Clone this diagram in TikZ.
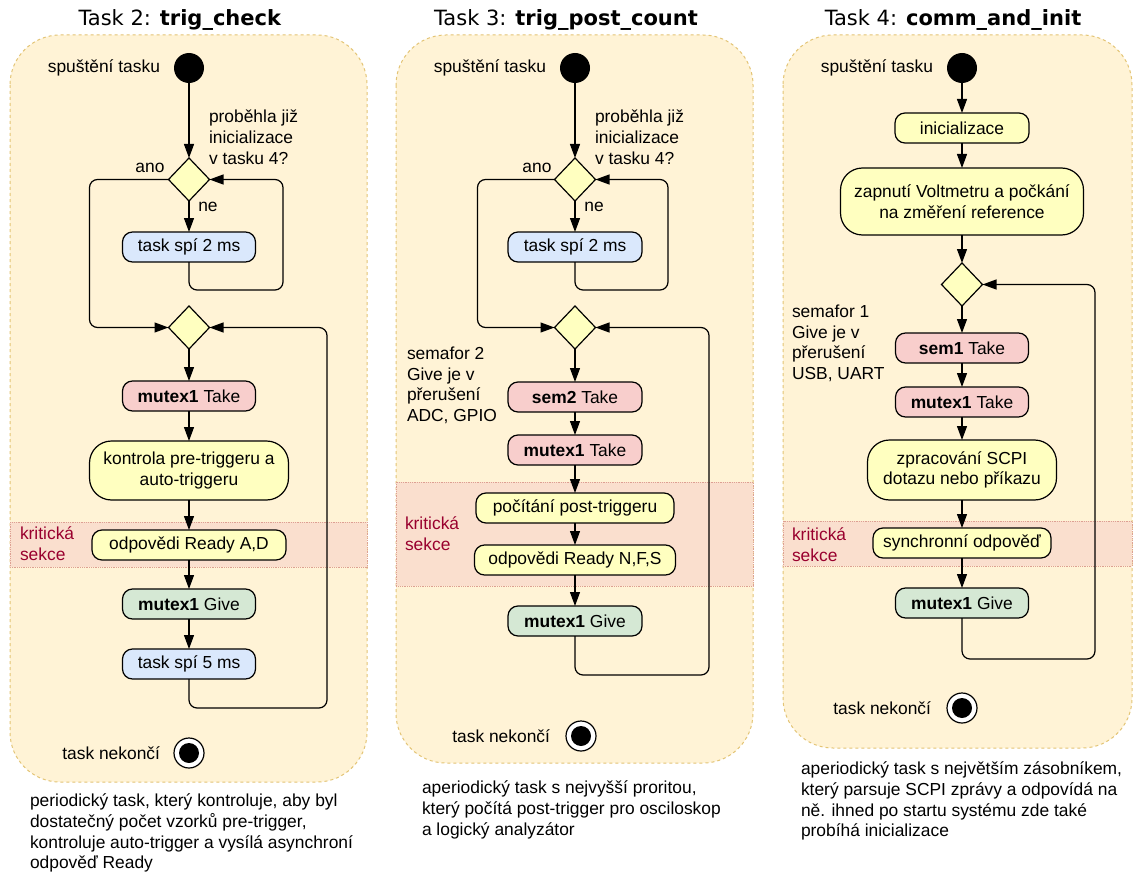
\documentclass[tikz,border=0pt]{standalone}
\usepackage{fontspec}
\setmainfont{Liberation Sans}
\newfontfamily\titlefont{DejaVu Sans}
\usetikzlibrary{positioning, arrows.meta, shapes.geometric, calc}
\definecolor{ink}{HTML}{000000}
\definecolor{laneFill}{HTML}{FFF3D6}
\definecolor{laneLine}{HTML}{E3C475}
\definecolor{critFill}{HTML}{FADFCE}
\definecolor{critLine}{HTML}{DDA092}
\definecolor{critText}{HTML}{99002E}
\definecolor{actY}{HTML}{FFFFC0}
\definecolor{actR}{HTML}{F8CECC}
\definecolor{actB}{HTML}{DAE8FC}
\definecolor{actG}{HTML}{D5E8D4}

\begin{document}
\begin{tikzpicture}[x=1pt, y=1pt,
  font=\fontsize{17.4}{20.7}\selectfont,
  every node/.style={outer sep=0pt},
  lane/.style={draw=laneLine, fill=laneFill, dashed, line width=1pt, rounded corners=50pt},
  crit/.style={draw=critLine, fill=critFill, densely dotted, line width=0.8pt},
  act/.style={rectangle, draw=ink, line width=1.2pt, rounded corners=10pt,
              minimum height=30pt, inner sep=3pt, align=center},
  bigact/.style={act, rounded corners=22pt},
  decision/.style={diamond, draw=ink, fill=actY, line width=1.2pt,
                   minimum width=41pt, minimum height=43pt, inner sep=0pt},
  start/.style={circle, fill=ink, minimum size=30pt, inner sep=0pt},
  endstate/.style={circle, draw=ink, fill=white, line width=1.2pt, minimum size=30pt, inner sep=0pt,
                   path picture={\fill[ink] (path picture bounding box.center) circle (10pt);}},
  txt/.style={inner sep=0pt, align=left},
  crittxt/.style={txt, text=critText},
  title/.style={font=\titlefont\fontsize{21}{24}\selectfont},
  arr/.style={-{Triangle[length=14pt, width=10pt]}, line width=1.2pt, draw=ink},
  loop/.style={arr, rounded corners=8pt}
]
\path[use as bounding box, fill=white] (0,0) rectangle (1133,-872);

% swimlanes
\draw[lane] (10,-35) rectangle (367,-782);
\draw[lane] (396,-35) rectangle (753,-763);
\draw[lane] (783,-35) rectangle (1132,-748);
\draw[crit] (10,-522) rectangle (367,-567);
\draw[crit] (396,-482) rectangle (753,-586);
\draw[crit] (783,-521) rectangle (1132,-566);

% Task 2
\node[title] (title1) at (180,-20) {Task 2: \textbf{trig\_check}};
\node[start] (start1) at (189,-68) {};
\node[txt, left=14pt of start1] (lblS1) {spuštění tasku};
\node[decision, below=75pt of start1] (dec1a) {};
\node[act, fill=actB, minimum width=133pt, below=31pt of dec1a] (spi2a) {task spí 2 ms};
\node[decision, below=44pt of spi2a] (dec1b) {};
\node[act, fill=actR, minimum width=133pt, below=32pt of dec1b] (take1) {\textbf{mutex1} Take};
\node[bigact, fill=actY, minimum width=199pt, minimum height=59pt, below=30pt of take1] (chk1) {kontrola pre-triggeru a\\auto-triggeru};
\node[act, fill=actY, minimum width=194pt, below=30pt of chk1] (rdy1) {odpovědi Ready A,D};
\node[act, fill=actG, minimum width=133pt, below=29pt of rdy1] (give1) {\textbf{mutex1} Give};
\node[act, fill=actB, minimum width=133pt, below=30pt of give1] (spi5) {task spí 5 ms};
\node[endstate, below=59pt of spi5] (end1) {};
\node[txt, left=14pt of end1] (lblE1) {task nekončí};
\node[txt, anchor=north west] (q1) at (209,-110) {proběhla již\\inicializace\\v tasku 4?};
\node[txt] (ano1) at (150,-168) {ano};
\node[txt] (ne1) at (208,-207) {ne};
\node[crittxt, anchor=north west] (krit1) at (20,-527) {kritická\\sekce};
\node[txt, anchor=north west] (desc1) at (30,-794) {periodický task, který kontroluje, aby byl\\dostatečný počet vzorků pre-trigger,\\kontroluje auto-trigger a vysílá asynchroní\\odpověď Ready};

\draw[arr] (start1) -- (dec1a);
\draw[arr] (dec1a) -- (spi2a);
\draw[loop] (spi2a.south) |- ++(94,-28) |- (dec1a.east);
\draw[loop] (dec1a.west) -- ++(-79,0) |- (dec1b.west);
\draw[arr] (dec1b) -- (take1);
\draw[arr] (take1) -- (chk1);
\draw[arr] (chk1) -- (rdy1);
\draw[arr] (rdy1) -- (give1);
\draw[arr] (give1) -- (spi5);
\draw[loop] (spi5.south) |- ++(138,-29) |- (dec1b.east);

% Task 3
\node[title] (title2) at (566,-20) {Task 3: \textbf{trig\_post\_count}};
\node[start] (start2) at (575,-68) {};
\node[txt, left=14pt of start2] (lblS2) {spuštění tasku};
\node[decision, below=75pt of start2] (dec2a) {};
\node[act, fill=actB, minimum width=134pt, below=31pt of dec2a] (spi2b) {task spí 2 ms};
\node[decision, below=44pt of spi2b] (dec2b) {};
\node[act, fill=actR, minimum width=134pt, below=33pt of dec2b] (sem2) {\textbf{sem2} Take};
\node[act, fill=actR, minimum width=134pt, below=23pt of sem2] (take2) {\textbf{mutex1} Take};
\node[act, fill=actY, minimum width=198pt, below=28pt of take2] (cnt2) {počítání post-triggeru};
\node[act, fill=actY, minimum width=201pt, below=22pt of cnt2] (rdy2) {odpovědi Ready N,F,S};
\node[act, fill=actG, minimum width=134pt, below=31pt of rdy2] (give2) {\textbf{mutex1} Give};
\node[endstate, below=85pt of give2, xshift=6pt] (end2) {};
\node[txt, left=16pt of end2] (lblE2) {task nekončí};
\node[txt, anchor=north west] (q2) at (595,-110) {proběhla již\\inicializace\\v tasku 4?};
\node[txt] (ano2) at (537,-168) {ano};
\node[txt] (ne2) at (594,-207) {ne};
\node[txt, anchor=north west] (sema2) at (407,-347) {semafor 2\\Give je v\\přerušení\\ADC, GPIO};
\node[crittxt, anchor=north west] (krit2) at (405,-517) {kritická\\sekce};
\node[txt, anchor=north west] (desc2) at (422,-781) {aperiodický task s nejvyšší proritou,\\který počítá post-trigger pro osciloskop\\a logický analyzátor};

\draw[arr] (start2) -- (dec2a);
\draw[arr] (dec2a) -- (spi2b);
\draw[loop] (spi2b.south) |- ++(93,-28) |- (dec2a.east);
\draw[loop] (dec2a.west) -- ++(-77,0) |- (dec2b.west);
\draw[arr] (dec2b) -- (sem2);
\draw[arr] (sem2) -- (take2);
\draw[arr] (take2) -- (cnt2);
\draw[arr] (cnt2) -- (rdy2);
\draw[arr] (rdy2) -- (give2);
\draw[loop] (give2.south) |- ++(134,-39) |- (dec2b.east);

% Task 4
\node[title] (title3) at (953,-20) {Task 4: \textbf{comm\_and\_init}};
\node[start] (start3) at (962,-68) {};
\node[txt, left=14pt of start3] (lblS3) {spuštění tasku};
\node[act, fill=actY, minimum width=134pt, below=30pt of start3] (init3) {inicializace};
\node[bigact, fill=actY, minimum width=243pt, minimum height=67pt, below=25pt of init3] (volt3) {zapnutí Voltmetru a počkání\\na změření reference};
\node[decision, below=28pt of volt3] (dec3) {};
\node[act, fill=actR, minimum width=133pt, below=27pt of dec3] (sem1) {\textbf{sem1} Take};
\node[act, fill=actR, minimum width=133pt, below=24pt of sem1] (take3) {\textbf{mutex1} Take};
\node[bigact, fill=actY, minimum width=189pt, minimum height=60pt, below=23pt of take3] (scpi3) {zpracování SCPI\\dotazu nebo příkazu};
\node[act, fill=actY, minimum width=178pt, below=28pt of scpi3] (sync3) {synchronní odpověď};
\node[act, fill=actG, minimum width=133pt, below=30pt of sync3] (give3) {\textbf{mutex1} Give};
\node[endstate, below=75pt of give3] (end3) {};
\node[txt, left=16pt of end3] (lblE3) {task nekončí};
\node[txt, anchor=north west] (sema1) at (792,-305) {semafor 1\\Give je v\\přerušení\\USB, UART};
\node[crittxt, anchor=north west] (krit3) at (792,-528) {kritická\\sekce};
\node[txt, anchor=north west] (desc3) at (801,-762) {aperiodický task s největším zásobníkem,\\který parsuje SCPI zprávy a odpovídá na\\ně. ihned po startu systému zde také\\probíhá inicializace};

\draw[arr] (start3) -- (init3);
\draw[arr] (init3) -- (volt3);
\draw[arr] (volt3) -- (dec3);
\draw[arr] (dec3) -- (sem1);
\draw[arr] (sem1) -- (take3);
\draw[arr] (take3) -- (scpi3);
\draw[arr] (scpi3) -- (sync3);
\draw[arr] (sync3) -- (give3);
\draw[loop] (give3.south) |- ++(133,-41) |- (dec3.east);
\end{tikzpicture}
\end{document}
